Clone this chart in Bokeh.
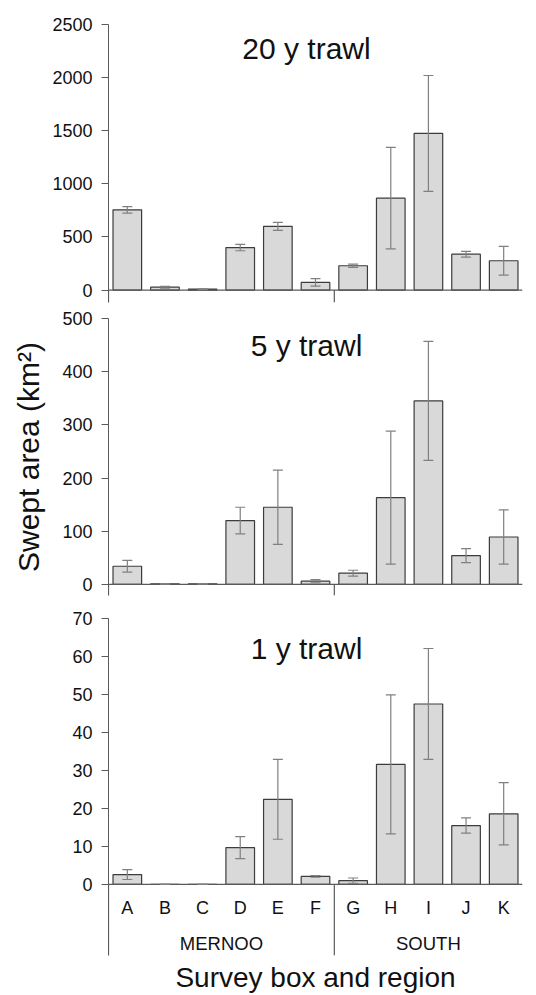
from bokeh.plotting import figure
from bokeh.models import Range1d, FixedTicker, ColumnDataSource, Whisker, TeeHead
from bokeh.layouts import column
from bokeh.core.properties import value
from bokeh.embed import file_html
from bokeh.resources import INLINE
import numpy as np

# ---------------- data ----------------
boxes = ["A", "B", "C", "D", "E", "F", "G", "H", "I", "J", "K"]
regions = ["MERNOO", "SOUTH"]
region_sizes = [6, 5]

trawl20 = [755, 27, 8, 400, 600, 72, 229, 865, 1475, 338, 276]
trawl20_err = [30, 8, 3, 30, 38, 35, 15, 478, 545, 27, 135]
trawl5 = [34, 1, 1, 120, 145, 6, 21, 163, 345, 54, 89]
trawl5_err = [11, 0.5, 0.5, 25, 70, 3, 5.5, 125, 112, 13, 51]
trawl1 = [2.6, 0, 0, 9.7, 22.4, 2.1, 1.0, 31.6, 47.5, 15.5, 18.6]
trawl1_err = [1.3, 0, 0, 2.9, 10.5, 0.2, 0.7, 18.3, 14.6, 2.0, 8.2]

titles = ["20 y trawl", "5 y trawl", "1 y trawl"]
y_ticks = [[0, 500, 1000, 1500, 2000, 2500],
           [0, 100, 200, 300, 400, 500],
           [0, 10, 20, 30, 40, 50, 60, 70]]
y_mins = [-117, -21, -18.7]
y_maxs = [2500, 500, 70]
y_label = "Swept area (km\u00b2)"
x_label = "Survey box and region"

FONT = "Liberation Sans"
AXIS_COLOR = "#5a5a5a"
n = len(boxes)
centers = np.arange(n) + 0.5
bounds = np.concatenate([[0], np.cumsum(region_sizes)[:-1]])
region_centers = [float(np.mean(centers[b:b + s])) for b, s in zip(bounds, region_sizes)]

layout_cfg = [
    dict(height=310, top=24, bottom=8, title_off=23.5),
    dict(height=295, top=8, bottom=10, title_off=27),
    dict(height=390, top=13, bottom=40, title_off=29.5),
]

panels = []
series = [(trawl20, trawl20_err), (trawl5, trawl5_err), (trawl1, trawl1_err)]
for i, ((vals, errs), cfg) in enumerate(zip(series, layout_cfg)):
    last = i == 2
    p = figure(width=536, height=cfg["height"], output_backend="svg", toolbar_location=None,
               x_range=Range1d(0, n), y_range=Range1d(y_mins[i], y_maxs[i]),
               x_axis_location="below" if last else None,
               min_border_left=108, min_border_right=14,
               min_border_top=cfg["top"], min_border_bottom=cfg["bottom"],
               background_fill_color="white", border_fill_color="white")
    p.outline_line_color = None
    p.xgrid.grid_line_color = None
    p.ygrid.grid_line_color = None

    ya = p.yaxis[0]
    ya.ticker = FixedTicker(ticks=y_ticks[i])
    ya.minor_tick_line_color = None
    ya.major_tick_in = 0
    ya.major_tick_out = 7
    ya.axis_line_color = AXIS_COLOR
    ya.major_tick_line_color = AXIS_COLOR
    ya.major_label_text_font = FONT
    ya.major_label_text_font_size = "18px"
    ya.major_label_text_color = "#111111"
    ya.major_label_standoff = 9
    if i == 1:
        ya.axis_label = y_label
        ya.axis_label_text_font = FONT
        ya.axis_label_text_font_size = "30px"
        ya.axis_label_text_font_style = "normal"
        ya.axis_label_text_color = "#111111"
        ya.axis_label_standoff = 14

    if last:
        xa = p.xaxis[0]
        xa.ticker = FixedTicker(ticks=[])
        xa.axis_line_color = None
        xa.major_tick_line_color = None
        xa.minor_tick_line_color = None
        xa.axis_label = x_label
        xa.axis_label_text_font = FONT
        xa.axis_label_text_font_size = "28px"
        xa.axis_label_text_font_style = "normal"
        xa.axis_label_text_color = "#111111"
        xa.axis_label_standoff = 6

    src = ColumnDataSource(dict(x=centers, top=vals,
                                upper=np.array(vals) + np.array(errs),
                                lower=np.array(vals) - np.array(errs)))
    p.vbar(x="x", top="top", width=0.76, bottom=0, source=src,
           fill_color="#d9d9d9", line_color="#3c3c3c", line_width=1.2)

    w = Whisker(base="x", upper="upper", lower="lower", source=src, dimension="height",
                line_color="#808080", line_width=1.2,
                upper_head=TeeHead(size=10, line_color="#808080", line_width=1.2),
                lower_head=TeeHead(size=10, line_color="#808080", line_width=1.2))
    w.level = "overlay"
    p.add_layout(w)

    # x-axis baseline at zero and region separators
    p.segment(x0=[0], y0=[0], x1=[n], y1=[0], line_color=AXIS_COLOR, line_width=1.2)
    p.segment(x0=bounds, y0=[0] * len(bounds), x1=bounds, y1=[y_mins[i]] * len(bounds),
              line_color=AXIS_COLOR, line_width=1.2)

    p.text(x=[n / 2], y=[y_maxs[i]], text=[titles[i]], x_offset=-9, y_offset=cfg["title_off"],
           text_align="center", text_baseline="middle", text_font=value(FONT),
           text_font_size="30px", text_color="#111111")

    if last:
        p.text(x=centers, y=[0] * n, text=boxes, y_offset=24, text_align="center",
               text_baseline="middle", text_font=value(FONT), text_font_size="18px",
               text_color="#111111")
        p.text(x=region_centers, y=[0] * len(regions), text=regions, y_offset=59,
               text_align="center", text_baseline="middle", text_font=value(FONT),
               text_font_size="18.5px", text_color="#111111")
    panels.append(p)

layout = column(*panels)
open("out.html", "w").write(file_html(layout, INLINE))
